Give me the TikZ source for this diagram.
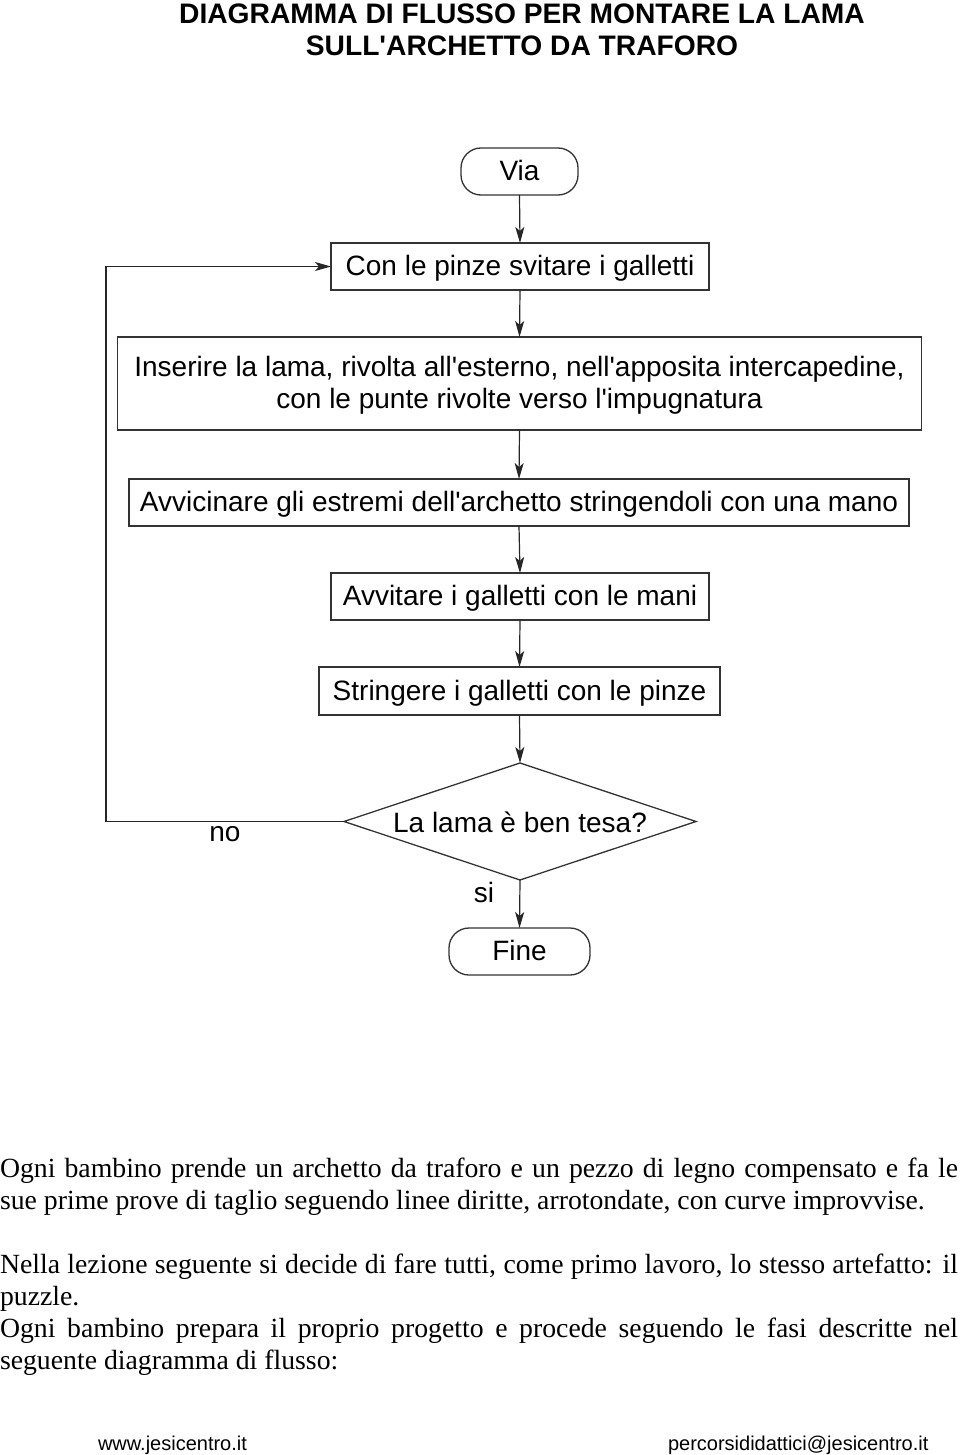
\documentclass[tikz,border=0pt]{standalone}
\usepackage{fontspec}
\setmainfont{Liberation Serif}
\newfontfamily\arial{Liberation Sans}
\usetikzlibrary{shapes.geometric,arrows.meta}
\begin{document}
\begin{tikzpicture}[x=1pt,y=-1pt,
  every node/.style={inner sep=0pt,outer sep=0pt},
  lc/.style={draw=black!80,line width=1.3pt},
  procbox/.style={lc,rectangle,minimum height=47pt,font=\arial\fontsize{28}{32}\selectfont,align=center,text height=20pt,text depth=2pt},
  termbox/.style={lc,rectangle,rounded corners=20pt,minimum height=47pt,font=\arial\fontsize{28}{32}\selectfont,text height=20pt,text depth=2pt},
  flow/.style={draw=black!85,line width=1.2pt,-{Stealth[length=16pt,width=9pt,inset=4pt]}},
  lbl/.style={font=\arial\fontsize{28}{32}\selectfont},
  body/.style={anchor=base west,font=\fontsize{27.75}{32}\selectfont},
  foot/.style={anchor=base west,font=\arial\fontsize{20}{24}\selectfont}]
\useasboundingbox (0,0) rectangle (960,1455);
% title
\node[font=\arial\bfseries\fontsize{28.2}{32}\selectfont,align=center] (title) at (522,30) {DIAGRAMMA DI FLUSSO PER MONTARE LA LAMA\\SULL'ARCHETTO DA TRAFORO};
% flowchart
\node[termbox,minimum width=117pt] (via) at (519.5,171.5) {Via};
\node[procbox,minimum width=378pt] (con) at (520,266.5) {Con le pinze svitare i galletti};
\node[procbox,minimum width=804pt,minimum height=93pt,text height=52pt,text depth=2pt] (ins) at (519.5,383.5) {Inserire la lama, rivolta all'esterno, nell'apposita intercapedine,\\con le punte rivolte verso l'impugnatura};
\node[procbox,minimum width=780pt] (avc) at (519,502.5) {Avvicinare gli estremi dell'archetto stringendoli con una mano};
\node[procbox,minimum width=378pt] (avt) at (520,596.5) {Avvitare i galletti con le mani};
\node[procbox,minimum width=401pt,minimum height=48pt] (str) at (519.5,691) {Stringere i galletti con le pinze};
\draw[lc] (520,763) coordinate (dt) -- (696,821.5) coordinate (dr) -- (520,880) coordinate (db) -- (344,821.5) coordinate (dl) -- cycle;
\node[lbl] (q) at (520,822.5) {La lama è ben tesa?};
\node[termbox,minimum width=141pt] (fine) at (519.5,951.5) {Fine};
\coordinate (lb) at (106,821.5);
\coordinate (lt) at (106,266.5);
\draw[flow] (via.south) -- (con.north);
\draw[flow] (con.south) -- (ins.north);
\draw[flow] (ins.south) -- (avc.north);
\draw[flow] (avc.south) -- (avt.north);
\draw[flow] (avt.south) -- (str.north);
\draw[flow] (str.south) -- (dt);
\draw[flow] (db) -- (fine.north);
\draw[flow] (dl) -- (lb) -- (lt) -- (con.west);
\node[lbl] (no) at (225,834) {no};
\node[lbl] (si) at (484,892) {si};
% body text
\node[body] (p1a) at (0,1177) {\makebox[958pt][s]{Ogni bambino prende un archetto da traforo e un pezzo di legno compensato e fa le}};
\node[body] (p1b) at (0,1209) {sue prime prove di taglio seguendo linee diritte, arrotondate, con curve improvvise.};
\node[body] (p2a) at (0,1273) {\makebox[958pt][s]{Nella lezione seguente si decide di fare tutti, come primo lavoro, lo stesso artefatto: il}};
\node[body] (p2b) at (0,1305) {puzzle.};
\node[body] (p3a) at (0,1337) {\makebox[958pt][s]{Ogni bambino prepara il proprio progetto e procede seguendo le fasi descritte nel}};
\node[body] (p3b) at (0,1369) {seguente diagramma di flusso:};
% footer
\node[foot] (f1) at (98,1450) {www.jesicentro.it};
\node[foot] (f2) at (668,1450) {percorsididattici@jesicentro.it};
\end{tikzpicture}
\end{document}
